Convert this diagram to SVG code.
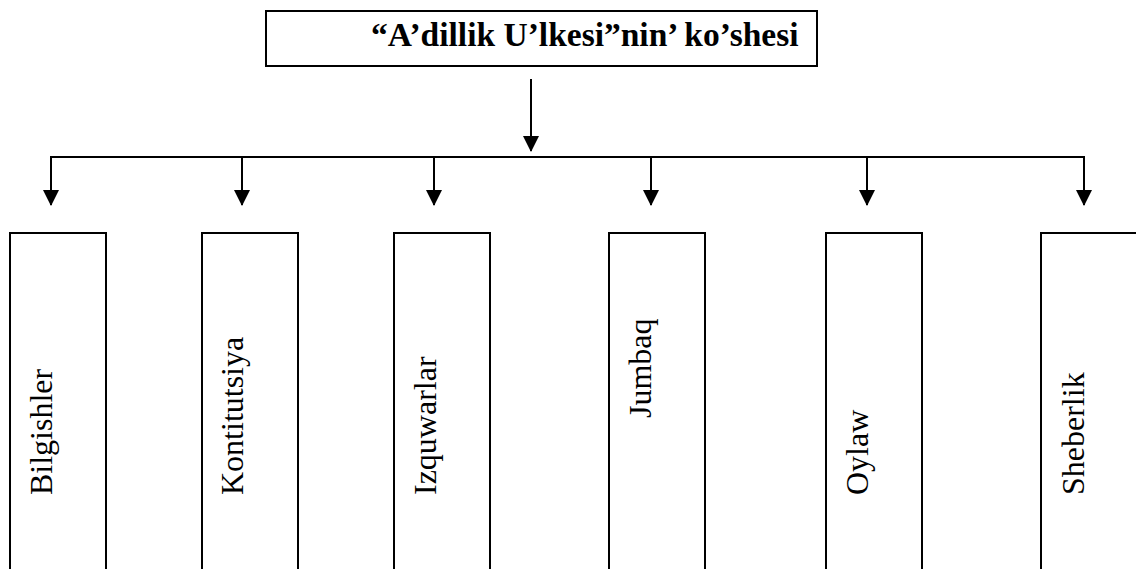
<svg xmlns="http://www.w3.org/2000/svg" width="1136" height="569" viewBox="0 0 1136 569">
<defs>
<marker id="ah" markerWidth="16" markerHeight="16" viewBox="0 0 16 16" refX="15" refY="8" orient="auto" markerUnits="userSpaceOnUse">
<path d="M0,0 L16,8 L0,16 Z" fill="#000"/>
</marker>
<style>
.box{fill:#fff;stroke:#000;stroke-width:2}
.ln{fill:none;stroke:#000;stroke-width:2}
.t{font-family:"Liberation Serif","Times New Roman",serif;font-size:32px;fill:#000}
.tb{font-family:"Liberation Serif","Times New Roman",serif;font-size:33.5px;font-weight:bold;fill:#000}
</style>
</defs>
<rect width="1136" height="569" fill="#fff"/>
<g id="title">
<rect class="box" x="266" y="11" width="551" height="55"/>
<text class="tb" x="371" y="46">“A’dillik U’lkesi”nin’ ko’shesi</text>
</g>
<g id="connectors">
<line class="ln" x1="531" y1="79" x2="531" y2="151" marker-end="url(#ah)"/>
<polyline class="ln" points="51,205 51,157 1084,157 1084,205" marker-end="url(#ah)"/>
<line class="ln" x1="51" y1="157" x2="51" y2="205" marker-end="url(#ah)"/>
<line class="ln" x1="242" y1="157" x2="242" y2="205" marker-end="url(#ah)"/>
<line class="ln" x1="434" y1="157" x2="434" y2="205" marker-end="url(#ah)"/>
<line class="ln" x1="651" y1="157" x2="651" y2="205" marker-end="url(#ah)"/>
<line class="ln" x1="867" y1="157" x2="867" y2="205" marker-end="url(#ah)"/>
</g>
<g id="n1"><rect class="box" x="10" y="233" width="96" height="400"/><text class="t" transform="translate(52,495) rotate(-90)">Bilgishler</text></g>
<g id="n2"><rect class="box" x="202" y="233" width="96" height="400"/><text class="t" transform="translate(243,495) rotate(-90)">Kontitutsiya</text></g>
<g id="n3"><rect class="box" x="394" y="233" width="96" height="400"/><text class="t" transform="translate(436,495) rotate(-90)">Izquwarlar</text></g>
<g id="n4"><rect class="box" x="609" y="233" width="96" height="400"/><text class="t" transform="translate(651,418) rotate(-90)">Jumbaq</text></g>
<g id="n5"><rect class="box" x="826" y="233" width="96" height="400"/><text class="t" transform="translate(868,495) rotate(-90)">Oylaw</text></g>
<g id="n6"><rect class="box" x="1041" y="233" width="110" height="400"/><text class="t" transform="translate(1084,495) rotate(-90)">Sheberlik</text></g>
</svg>
